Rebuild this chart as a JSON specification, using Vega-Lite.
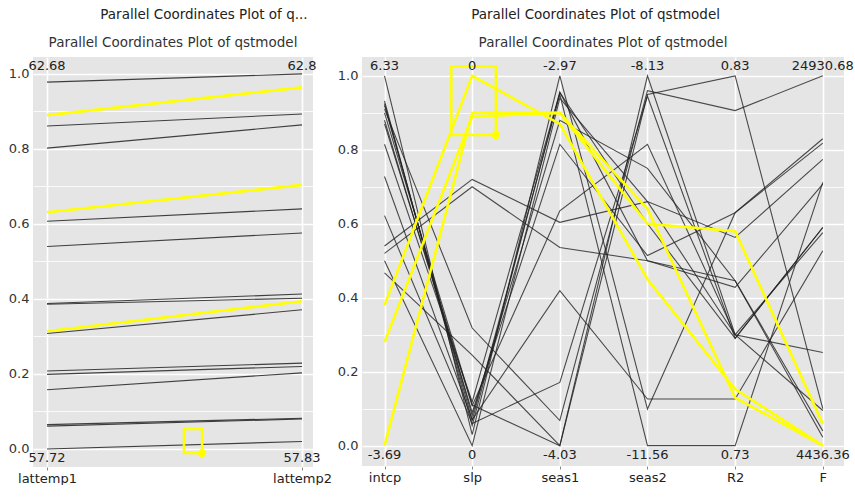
{
  "$schema": "https://vega.github.io/schema/vega-lite/v6.json",
  "background": "white",
  "padding": {"left": 8, "top": 8, "right": 0, "bottom": 0},
  "spacing": 5,
  "config": {
    "font": "DejaVu Sans",
    "view": {"stroke": null, "fill": "#e5e5e5"},
    "title": {"fontSize": 13.5, "fontWeight": "normal", "color": "#222"},
    "axisY": {
      "values": [0, 0.1, 0.2, 0.3, 0.4, 0.5, 0.6, 0.7, 0.8, 0.9, 1.0],
      "labelExpr": "round(datum.value*10)%2==0 ? format(datum.value,'.1f') : ''",
      "domain": false, "tickSize": 3, "tickColor": "#777",
      "tickOpacity": {"condition": {"test": "round(datum.value*10)%2==0", "value": 1}, "value": 0},
      "labelFontSize": 13, "labelColor": "#333", "labelPadding": 1,
      "gridColor": "white",
      "gridWidth": {"condition": {"test": "round(datum.value*10)%2==0", "value": 1.6}, "value": 0.8},
      "title": null
    },
    "axisX": {
      "domain": false, "tickSize": 3, "tickColor": "#888",
      "labelFontSize": 13, "labelColor": "#222", "labelPadding": 2,
      "gridColor": "white", "gridWidth": 1.6, "title": null
    }
  },
  "datasets": {
    "left": [
      {"id": 1, "k": 1, "v": 0.978, "sel": 0}, {"id": 1, "k": 2, "v": 1.0, "sel": 0},
      {"id": 2, "k": 1, "v": 0.89, "sel": 1}, {"id": 2, "k": 2, "v": 0.964, "sel": 1},
      {"id": 3, "k": 1, "v": 0.861, "sel": 0}, {"id": 3, "k": 2, "v": 0.893, "sel": 0},
      {"id": 4, "k": 1, "v": 0.802, "sel": 0}, {"id": 4, "k": 2, "v": 0.864, "sel": 0},
      {"id": 5, "k": 1, "v": 0.631, "sel": 1}, {"id": 5, "k": 2, "v": 0.704, "sel": 1},
      {"id": 6, "k": 1, "v": 0.607, "sel": 0}, {"id": 6, "k": 2, "v": 0.64, "sel": 0},
      {"id": 7, "k": 1, "v": 0.54, "sel": 0}, {"id": 7, "k": 2, "v": 0.576, "sel": 0},
      {"id": 8, "k": 1, "v": 0.388, "sel": 0}, {"id": 8, "k": 2, "v": 0.413, "sel": 0},
      {"id": 9, "k": 1, "v": 0.386, "sel": 0}, {"id": 9, "k": 2, "v": 0.402, "sel": 0},
      {"id": 10, "k": 1, "v": 0.314, "sel": 1}, {"id": 10, "k": 2, "v": 0.394, "sel": 1},
      {"id": 11, "k": 1, "v": 0.308, "sel": 0}, {"id": 11, "k": 2, "v": 0.371, "sel": 0},
      {"id": 12, "k": 1, "v": 0.208, "sel": 0}, {"id": 12, "k": 2, "v": 0.229, "sel": 0},
      {"id": 13, "k": 1, "v": 0.199, "sel": 0}, {"id": 13, "k": 2, "v": 0.22, "sel": 0},
      {"id": 14, "k": 1, "v": 0.158, "sel": 0}, {"id": 14, "k": 2, "v": 0.203, "sel": 0},
      {"id": 15, "k": 1, "v": 0.065, "sel": 0}, {"id": 15, "k": 2, "v": 0.082, "sel": 0},
      {"id": 16, "k": 1, "v": 0.061, "sel": 0}, {"id": 16, "k": 2, "v": 0.08, "sel": 0},
      {"id": 17, "k": 1, "v": 0.0, "sel": 0}, {"id": 17, "k": 2, "v": 0.02, "sel": 0}
    ],
    "leftlab": [
      {"k": 1, "top": "62.68", "bottom": "57.72"},
      {"k": 2, "top": "62.8", "bottom": "57.83"}
    ],
    "leftbrush": [{"x1": 1.537, "x2": 1.608, "y1": -0.011, "y2": 0.053}],
    "right": [
      {"id": 1, "k": 1, "v": 0.467, "sel": 0}, {"id": 1, "k": 2, "v": 0.245, "sel": 0}, {"id": 1, "k": 3, "v": 0.0, "sel": 0}, {"id": 1, "k": 4, "v": 1.0, "sel": 0}, {"id": 1, "k": 5, "v": 0.3, "sel": 0}, {"id": 1, "k": 6, "v": 0.576, "sel": 0},
      {"id": 2, "k": 1, "v": 0.9, "sel": 0}, {"id": 2, "k": 2, "v": 0.11, "sel": 0}, {"id": 2, "k": 3, "v": 0.0, "sel": 0}, {"id": 2, "k": 4, "v": 0.95, "sel": 0}, {"id": 2, "k": 5, "v": 1.0, "sel": 0}, {"id": 2, "k": 6, "v": 0.1, "sel": 0},
      {"id": 3, "k": 1, "v": 0.91, "sel": 0}, {"id": 3, "k": 2, "v": 0.318, "sel": 0}, {"id": 3, "k": 3, "v": 0.068, "sel": 0}, {"id": 3, "k": 4, "v": 0.96, "sel": 0}, {"id": 3, "k": 5, "v": 0.906, "sel": 0}, {"id": 3, "k": 6, "v": 1.0, "sel": 0},
      {"id": 4, "k": 1, "v": 0.622, "sel": 0}, {"id": 4, "k": 2, "v": 0.06, "sel": 0}, {"id": 4, "k": 3, "v": 0.171, "sel": 0}, {"id": 4, "k": 4, "v": 0.945, "sel": 0}, {"id": 4, "k": 5, "v": 0.29, "sel": 0}, {"id": 4, "k": 6, "v": 0.59, "sel": 0},
      {"id": 5, "k": 1, "v": 1.0, "sel": 0}, {"id": 5, "k": 2, "v": 0.03, "sel": 0}, {"id": 5, "k": 3, "v": 1.0, "sel": 0}, {"id": 5, "k": 4, "v": 0.099, "sel": 0}, {"id": 5, "k": 5, "v": 0.63, "sel": 0}, {"id": 5, "k": 6, "v": 0.83, "sel": 0},
      {"id": 6, "k": 1, "v": 0.932, "sel": 0}, {"id": 6, "k": 2, "v": 0.054, "sel": 0}, {"id": 6, "k": 3, "v": 0.956, "sel": 0}, {"id": 6, "k": 4, "v": 0.5, "sel": 0}, {"id": 6, "k": 5, "v": 0.446, "sel": 0}, {"id": 6, "k": 6, "v": 0.04, "sel": 0},
      {"id": 7, "k": 1, "v": 0.925, "sel": 0}, {"id": 7, "k": 2, "v": 0.068, "sel": 0}, {"id": 7, "k": 3, "v": 0.95, "sel": 0}, {"id": 7, "k": 4, "v": 0.0, "sel": 0}, {"id": 7, "k": 5, "v": 0.0, "sel": 0}, {"id": 7, "k": 6, "v": 0.712, "sel": 0},
      {"id": 8, "k": 1, "v": 0.92, "sel": 0}, {"id": 8, "k": 2, "v": 0.081, "sel": 0}, {"id": 8, "k": 3, "v": 0.88, "sel": 0}, {"id": 8, "k": 4, "v": 0.75, "sel": 0}, {"id": 8, "k": 5, "v": 0.446, "sel": 0}, {"id": 8, "k": 6, "v": 0.023, "sel": 0},
      {"id": 9, "k": 1, "v": 0.88, "sel": 0}, {"id": 9, "k": 2, "v": 0.09, "sel": 0}, {"id": 9, "k": 3, "v": 0.815, "sel": 0}, {"id": 9, "k": 4, "v": 0.514, "sel": 0}, {"id": 9, "k": 5, "v": 0.63, "sel": 0}, {"id": 9, "k": 6, "v": 0.818, "sel": 0},
      {"id": 10, "k": 1, "v": 0.87, "sel": 0}, {"id": 10, "k": 2, "v": 0.108, "sel": 0}, {"id": 10, "k": 3, "v": 0.635, "sel": 0}, {"id": 10, "k": 4, "v": 0.815, "sel": 0}, {"id": 10, "k": 5, "v": 0.3, "sel": 0}, {"id": 10, "k": 6, "v": 0.252, "sel": 0},
      {"id": 11, "k": 1, "v": 0.54, "sel": 0}, {"id": 11, "k": 2, "v": 0.72, "sel": 0}, {"id": 11, "k": 3, "v": 0.604, "sel": 0}, {"id": 11, "k": 4, "v": 0.66, "sel": 0}, {"id": 11, "k": 5, "v": 0.563, "sel": 0}, {"id": 11, "k": 6, "v": 0.774, "sel": 0},
      {"id": 12, "k": 1, "v": 0.52, "sel": 0}, {"id": 12, "k": 2, "v": 0.7, "sel": 0}, {"id": 12, "k": 3, "v": 0.536, "sel": 0}, {"id": 12, "k": 4, "v": 0.5, "sel": 0}, {"id": 12, "k": 5, "v": 0.428, "sel": 0}, {"id": 12, "k": 6, "v": 0.707, "sel": 0},
      {"id": 13, "k": 1, "v": 0.728, "sel": 0}, {"id": 13, "k": 2, "v": 0.07, "sel": 0}, {"id": 13, "k": 3, "v": 0.419, "sel": 0}, {"id": 13, "k": 4, "v": 0.126, "sel": 0}, {"id": 13, "k": 5, "v": 0.126, "sel": 0}, {"id": 13, "k": 6, "v": 0.527, "sel": 0},
      {"id": 14, "k": 1, "v": 0.815, "sel": 0}, {"id": 14, "k": 2, "v": 0.118, "sel": 0}, {"id": 14, "k": 3, "v": 0.955, "sel": 0}, {"id": 14, "k": 4, "v": 0.6, "sel": 0}, {"id": 14, "k": 5, "v": 0.29, "sel": 0}, {"id": 14, "k": 6, "v": 0.59, "sel": 0},
      {"id": 15, "k": 1, "v": 0.5, "sel": 0}, {"id": 15, "k": 2, "v": 0.0, "sel": 0}, {"id": 15, "k": 3, "v": 0.94, "sel": 0}, {"id": 15, "k": 4, "v": 0.66, "sel": 0}, {"id": 15, "k": 5, "v": 0.3, "sel": 0}, {"id": 15, "k": 6, "v": 0.095, "sel": 0},
      {"id": 16, "k": 1, "v": 0.38, "sel": 1}, {"id": 16, "k": 2, "v": 1.0, "sel": 1}, {"id": 16, "k": 3, "v": 0.87, "sel": 1}, {"id": 16, "k": 4, "v": 0.45, "sel": 1}, {"id": 16, "k": 5, "v": 0.153, "sel": 1}, {"id": 16, "k": 6, "v": 0.0, "sel": 1},
      {"id": 17, "k": 1, "v": 0.28, "sel": 1}, {"id": 17, "k": 2, "v": 0.89, "sel": 1}, {"id": 17, "k": 3, "v": 0.9, "sel": 1}, {"id": 17, "k": 4, "v": 0.6, "sel": 1}, {"id": 17, "k": 5, "v": 0.58, "sel": 1}, {"id": 17, "k": 6, "v": 0.059, "sel": 1},
      {"id": 18, "k": 1, "v": 0.0, "sel": 1}, {"id": 18, "k": 2, "v": 0.9, "sel": 1}, {"id": 18, "k": 3, "v": 0.9, "sel": 1}, {"id": 18, "k": 4, "v": 0.64, "sel": 1}, {"id": 18, "k": 5, "v": 0.13, "sel": 1}, {"id": 18, "k": 6, "v": 0.0, "sel": 1}
    ],
    "rightlab": [
      {"k": 1, "top": "6.33", "bottom": "-3.69"},
      {"k": 2, "top": "0", "bottom": "0"},
      {"k": 3, "top": "-2.97", "bottom": "-4.03"},
      {"k": 4, "top": "-8.13", "bottom": "-11.56"},
      {"k": 5, "top": "0.83", "bottom": "0.73"},
      {"k": 6, "top": "24930.68", "bottom": "4436.36"}
    ],
    "rightbrush": [{"x1": 1.762, "x2": 2.27, "y1": 0.84, "y2": 1.026}]
  },
  "hconcat": [
    {
      "title": {"text": "Parallel Coordinates Plot of q...", "anchor": "middle", "dx": 34, "offset": 14},
      "vconcat": [
        {
          "title": {"text": "Parallel Coordinates Plot of qstmodel", "offset": 8, "color": "#333", "frame": "group"},
          "width": 280,
          "height": 410,
          "layer": [
            {
              "data": {"name": "left"},
              "transform": [{"filter": "datum.sel == 0"}],
              "mark": {"type": "line", "stroke": "#222", "strokeWidth": 1.1, "opacity": 0.85},
              "encoding": {
                "x": {"field": "k", "type": "quantitative", "scale": {"domain": [0.945, 2.043], "nice": false, "zero": false},
                      "axis": {"values": [1, 2], "labelExpr": "['','lattemp1','lattemp2'][datum.value]"}},
                "y": {"field": "v", "type": "quantitative", "scale": {"domain": [-0.048, 1.045], "nice": false, "zero": false}},
                "detail": {"field": "id"}
              }
            },
            {
              "data": {"name": "left"},
              "transform": [{"filter": "datum.sel == 1"}],
              "mark": {"type": "line", "stroke": "#ffff00", "strokeWidth": 2.6},
              "encoding": {
                "x": {"field": "k", "type": "quantitative"},
                "y": {"field": "v", "type": "quantitative"},
                "detail": {"field": "id"}
              }
            },
            {
              "data": {"name": "leftbrush"},
              "mark": {"type": "rect", "fill": null, "fillOpacity": 0, "stroke": "#ffff00", "strokeWidth": 2.5},
              "encoding": {
                "x": {"field": "x1", "type": "quantitative"}, "x2": {"field": "x2"},
                "y": {"field": "y1", "type": "quantitative"}, "y2": {"field": "y2"}
              }
            },
            {
              "data": {"name": "leftbrush"},
              "mark": {"type": "point", "filled": true, "color": "#ffff00", "opacity": 1, "size": 70},
              "encoding": {
                "x": {"field": "x2", "type": "quantitative"},
                "y": {"field": "y1", "type": "quantitative"}
              }
            },
            {
              "data": {"name": "leftlab"},
              "mark": {"type": "text", "fontSize": 13, "color": "#222", "baseline": "middle"},
              "encoding": {
                "x": {"field": "k", "type": "quantitative"},
                "y": {"datum": 1.022},
                "text": {"field": "top"}
              }
            },
            {
              "data": {"name": "leftlab"},
              "mark": {"type": "text", "fontSize": 13, "color": "#222", "baseline": "middle"},
              "encoding": {
                "x": {"field": "k", "type": "quantitative"},
                "y": {"datum": -0.024},
                "text": {"field": "bottom"}
              }
            }
          ]
        }
      ]
    },
    {
      "title": {"text": "Parallel Coordinates Plot of qstmodel", "anchor": "middle", "offset": 14},
      "vconcat": [
        {
          "title": {"text": "Parallel Coordinates Plot of qstmodel", "offset": 8, "color": "#333", "frame": "group"},
          "width": 482,
          "height": 409,
          "layer": [
            {
              "data": {"name": "right"},
              "transform": [{"filter": "datum.sel == 0"}],
              "mark": {"type": "line", "stroke": "#222", "strokeWidth": 1.1, "opacity": 0.8},
              "encoding": {
                "x": {"field": "k", "type": "quantitative", "scale": {"domain": [0.743, 6.242], "nice": false, "zero": false},
                      "axis": {"values": [1, 2, 3, 4, 5, 6], "labelExpr": "['','intcp','slp','seas1','seas2','R2','F'][datum.value]"}},
                "y": {"field": "v", "type": "quantitative", "scale": {"domain": [-0.055, 1.051], "nice": false, "zero": false}},
                "detail": {"field": "id"}
              }
            },
            {
              "data": {"name": "right"},
              "transform": [{"filter": "datum.sel == 1"}],
              "mark": {"type": "line", "stroke": "#ffff00", "strokeWidth": 2.6},
              "encoding": {
                "x": {"field": "k", "type": "quantitative"},
                "y": {"field": "v", "type": "quantitative"},
                "detail": {"field": "id"}
              }
            },
            {
              "data": {"name": "rightbrush"},
              "mark": {"type": "rect", "fill": null, "fillOpacity": 0, "stroke": "#ffff00", "strokeWidth": 2.5},
              "encoding": {
                "x": {"field": "x1", "type": "quantitative"}, "x2": {"field": "x2"},
                "y": {"field": "y1", "type": "quantitative"}, "y2": {"field": "y2"}
              }
            },
            {
              "data": {"name": "rightbrush"},
              "mark": {"type": "point", "filled": true, "color": "#ffff00", "opacity": 1, "size": 70},
              "encoding": {
                "x": {"field": "x2", "type": "quantitative"},
                "y": {"field": "y1", "type": "quantitative"}
              }
            },
            {
              "data": {"name": "rightlab"},
              "mark": {"type": "text", "fontSize": 13, "color": "#222", "baseline": "middle"},
              "encoding": {
                "x": {"field": "k", "type": "quantitative"},
                "y": {"datum": 1.027},
                "text": {"field": "top"}
              }
            },
            {
              "data": {"name": "rightlab"},
              "mark": {"type": "text", "fontSize": 13, "color": "#222", "baseline": "middle"},
              "encoding": {
                "x": {"field": "k", "type": "quantitative"},
                "y": {"datum": -0.025},
                "text": {"field": "bottom"}
              }
            }
          ]
        }
      ]
    }
  ]
}
